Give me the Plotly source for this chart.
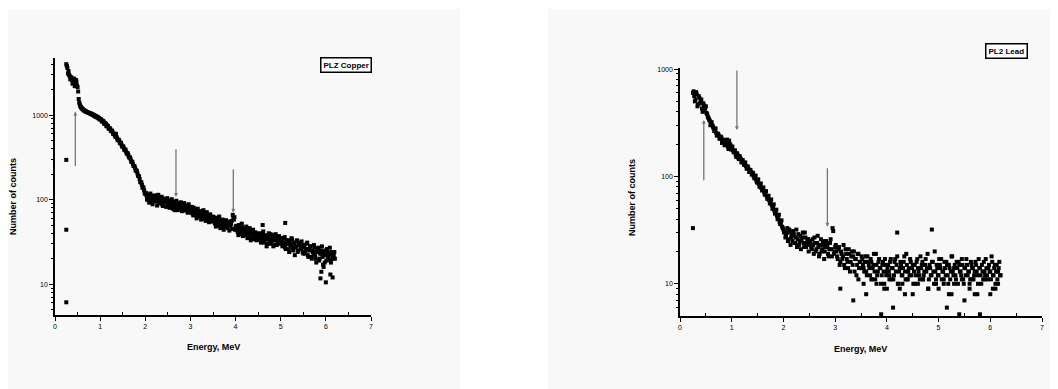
import numpy as np
import plotly.graph_objects as go

W, H = 1050, 381   # page body has an 8px margin
OFF = 8

# ---------------- data ----------------
E0, DE = 0.25, 0.025  # channel calibration (MeV)

copper_counts = [
    4000, 3600, 3300, 2900, 2750, 2600, 2450, 2700, 2300, 2500, 2150,
    1550, 1330, 1240, 1190, 1160, 1130, 1110, 1090, 1080, 1060, 1050, 1040,
    1020, 1010, 990, 975, 960, 940, 925, 900, 880, 860, 840, 810, 790, 760,
    740, 700, 680, 650, 630, 600, 575, 555, 530, 510, 490, 465, 445, 425,
    405, 390, 370, 355, 335, 315, 300, 280, 265, 250, 235, 222, 205, 190,
    175, 160, 150, 140, 128, 118, 112, 106,
    98, 115, 104, 93, 110, 101, 96, 112, 99, 90, 106, 97, 88, 103, 95, 92, 100, 87,
    85, 98, 90, 80, 94, 86, 78, 92, 84, 88, 76, 90, 82, 79, 86, 74, 83, 80, 72, 81,
    75, 68, 80, 71, 66, 74, 63, 70, 67, 61, 72, 64, 59, 68, 62, 57, 65, 60, 55, 63,
    58, 52, 61, 55, 49, 57, 51, 54, 47, 56, 50, 53, 46, 55, 49, 52, 45, 60, 62, 47,
    46, 41, 50, 44, 39, 47, 42, 38, 45, 40, 36, 43, 39, 35, 42, 37, 34, 40, 36, 38,
    37, 33, 39, 35, 31, 38, 34, 30, 36, 33, 39, 32, 35, 29, 37, 33, 31, 36, 30, 34,
    32, 29, 35, 27, 33, 30, 26, 31, 28, 34, 25, 30, 27, 32, 24, 29, 31, 26, 28, 23,
    27, 24, 30, 22, 26, 28, 21, 25, 23, 27, 20, 24, 26, 19, 23, 25, 21, 24, 18, 22,
    26, 20, 23, 19, 24, 21, 22, 20,
]
copper_counts_b = [
    3800, 3100, 3000, 2650, 2800, 2350, 2550, 2200, 2600, 2250, 1900,
    1400, 1270,
    1210, 1175, 1140, 1120, 1100, 1085, 1065, 1055, 1030, 1025, 1000, 985, 965, 950, 935, 915, 890,
    890, 840, 845, 790, 790, 740, 735, 690,
    700, 650, 655, 600, 600, 555, 550, 505,
    510, 465, 470, 425, 425, 385, 390, 350,
    350, 318, 315, 282, 280, 250, 248, 220,
    218, 192, 188, 162, 160, 138, 138, 118,
    120, 100,
    108, 92, 118, 100, 88, 112, 95, 105, 85, 114, 98, 91, 108, 84, 100, 94, 82, 104,
    96, 80, 88, 101, 78, 92, 84, 97, 75, 89, 81, 93, 73, 86, 91, 77, 84, 70, 88, 79,
    70, 82, 65, 76, 72, 60, 78, 66, 73, 58, 69, 75, 62, 56, 71, 64, 54, 67, 58, 61,
    62, 53, 48, 59, 54, 63, 46, 52, 58, 44, 51, 57, 48, 54, 43, 50, 56, 66, 58, 44,
    49, 43, 38, 47, 41, 52, 37, 44, 40, 48, 35, 41, 46, 33, 39, 44, 36, 41, 33, 39,
    34, 40, 31, 36, 42, 32, 37, 28, 35, 40, 30, 34, 38, 28, 33, 39, 29, 34, 37, 31,
    35, 28, 31, 36, 26, 30, 33, 24, 29, 35, 27, 31, 22, 28, 33, 25, 30, 27, 32, 24,
    29, 23, 26, 31, 21, 25, 28, 20, 24, 29, 22, 18, 25, 27, 20, 23, 28, 17, 22, 25,
    19, 24, 21, 27, 18, 23, 20, 24,
]
copper_extra_e = [0.25, 0.25, 0.25, 5.1, 5.88, 6.0, 6.15, 5.9, 4.6, 2.65, 1.35, 6.1, 5.95]
copper_extra_c = [295, 44, 6.1, 53, 11.7, 10.5, 12, 14, 50, 75, 600, 13, 16]

lead_counts = [
    600, 560, 520, 580, 470, 540, 500, 430, 480, 410, 450,
    380, 350, 330, 310,
    300, 280, 270, 255, 245, 240, 225, 230, 210, 215, 200, 205, 190, 215, 195, 185,
    175, 170, 160, 165, 150, 155, 145, 140,
    135, 130, 125, 120, 118, 112, 110, 105,
    100, 98, 92, 88, 85, 82, 78, 75,
    72, 68, 66, 62, 60, 57, 54, 52,
    48, 46, 43, 41, 38, 36, 34, 32,
    31, 28, 33, 26, 30, 27, 25, 29, 24, 32, 26, 23, 28, 25, 30, 22, 27, 24, 26, 23,
    25, 21, 23, 27, 20, 24, 22, 19, 26, 21, 23, 20, 25, 22, 18, 24, 21, 33, 19, 22,
    20, 17, 22, 16, 19, 18, 15, 21, 17, 14, 19, 16, 20, 18, 13, 17, 15, 19, 16, 14,
    17, 14, 16, 13, 18, 15, 12, 16, 14, 19, 11, 15, 13, 17, 14, 12, 16, 9, 15, 13,
    15, 12, 17, 14, 11, 16, 13, 18, 10, 14, 15, 12, 16, 13, 19, 11, 14, 17, 12, 15,
    13, 10, 16, 14, 12, 18, 15, 11, 13, 17, 14, 9, 15, 12, 16, 13, 20, 11, 14, 12,
    15, 17, 13, 10, 14, 16, 12, 15, 11, 18, 13, 14, 12, 16, 10, 15, 13, 17, 11, 14,
    12, 15, 13, 9, 16, 14, 11, 13, 15, 12, 17, 14, 10, 13, 16, 12, 14, 11, 15, 13,
    18, 12, 14, 10, 15, 13, 16, 12,
]
lead_counts_b = [
    620, 500, 610, 450, 560, 480, 520, 400, 460, 430, 390,
    360, 340, 300, 320,
    290, 265, 280, 240, 250, 225, 235, 205, 220, 195, 210, 220, 180, 200, 178, 190,
    168, 175, 152, 160, 145, 150, 135, 142,
    128, 135, 118, 124, 110, 115, 104, 108,
    96, 102, 88, 94, 80, 86, 74, 79,
    68, 73, 62, 66, 56, 61, 50, 55,
    45, 49, 40, 44, 36, 39, 33, 30,
    27, 30, 25, 32, 23, 28, 31, 24, 27, 22, 29, 25, 21, 27, 24, 30, 22, 26, 20, 25,
    22, 26, 19, 24, 21, 28, 18, 23, 20, 25, 17, 22, 24, 19, 21, 26, 18, 31, 20, 23,
    18, 21, 15, 20, 17, 23, 14, 19, 16, 21, 13, 18, 15, 20, 17, 12, 19, 14, 16, 18,
    15, 13, 18, 12, 16, 14, 17, 11, 15, 13, 19, 12, 16, 14, 10, 15, 13, 17, 12, 14,
    13, 16, 11, 14, 12, 17, 15, 10, 13, 16, 12, 14, 18, 11, 15, 13, 12, 16, 14, 10,
    15, 12, 17, 13, 11, 14, 16, 12, 15, 13, 19, 11, 14, 12, 16, 10, 13, 15, 12, 17,
    14, 11, 13, 16, 12, 15, 10, 14, 13, 18, 12, 15, 11, 14, 16, 13, 12, 15, 10, 14,
    17, 12, 13, 11, 15, 14, 12, 16, 13, 10, 14, 12, 15, 11, 13, 17, 12, 14, 13, 11,
    16, 12, 15, 13, 11, 14, 12,
]
lead_extra_e = [0.25, 5.4, 5.8, 3.89, 4.12, 5.16, 4.87, 4.2, 3.35, 3.6, 4.5,
                5.2, 5.5, 6.0, 3.1, 4.0, 4.8, 5.7, 6.1, 3.8, 4.3, 5.3,
                3.45, 3.7, 3.95, 4.05, 4.25, 4.4, 4.6, 4.7, 5.0, 5.1, 5.25, 5.45,
                5.6, 5.75, 5.9, 6.05, 3.55, 4.35, 4.95, 5.65, 6.15]
lead_extra_c = [33, 5.2, 5.2, 5.2, 6, 6, 32, 30, 7, 8, 8,
                8, 7, 8, 9, 9, 9, 8, 9, 10, 10, 10,
                11, 11, 10, 11, 9, 11, 10, 11, 9, 11, 8, 11,
                10, 8, 11, 9, 10, 8, 10, 11, 10]

copper_energy = [round(E0 + DE * i, 4) for i in range(len(copper_counts))]
copper_energy_b = [round(E0 + DE / 2 + DE * i, 4) for i in range(len(copper_counts_b))]
lead_energy = [round(E0 + DE * i, 4) for i in range(len(lead_counts))]
lead_energy_b = [round(E0 + DE / 2 + DE * i, 4) for i in range(len(lead_counts_b))]

x_ticks = [0, 1, 2, 3, 4, 5, 6, 7]
y_ticks = [10, 100, 1000]
y_ticktext = ["10", "100", "1000"]

# arrows: (energy, head counts, tail counts)
copper_arrows = [(0.45, 1100, 240), (2.68, 108, 410), (3.95, 70, 238)]
lead_arrows = [(0.46, 336, 89), (1.10, 270, 1000), (2.85, 34, 123)]

titles = ["PLZ Copper", "PL2 Lead"]
x_title = "Energy, MeV"
y_title = "Number of counts"

# ---------------- figure ----------------
def px_x(p):
    return (p - OFF) / W

def px_y(p):
    return 1 - (p - OFF) / H

fig = go.Figure()

mk = dict(symbol="square", size=4, color="black", line=dict(width=0))
fig.add_trace(go.Scatter(x=copper_energy + copper_energy_b + copper_extra_e,
                         y=copper_counts + copper_counts_b + copper_extra_c,
                         mode="markers", marker=mk, xaxis="x", yaxis="y", showlegend=False))
fig.add_trace(go.Scatter(x=lead_energy + lead_energy_b + lead_extra_e,
                         y=lead_counts + lead_counts_b + lead_extra_c,
                         mode="markers", marker=mk, xaxis="x2", yaxis="y2", showlegend=False))

FAM = "Liberation Sans, Arial, sans-serif"
font_tick = dict(family=FAM, size=7, color="black")
font_title = dict(family=FAM, size=9, color="black")

minor_vals = [m * 10 ** d for d in range(0, 4) for m in range(2, 10)]

def xaxis(dom, anchor):
    return dict(domain=dom, anchor=anchor, range=[0, 7], tickvals=x_ticks,
                ticks="outside", ticklen=4, tickwidth=1.2, tickcolor="black",
                showline=True, linecolor="black", linewidth=1.5, showgrid=False,
                zeroline=False, tickfont=font_tick, color="black",
                minor=dict(tickvals=[0.5, 1.5, 2.5, 3.5, 4.5, 5.5, 6.5], ticks="inside",
                           ticklen=3, tickcolor="black", showgrid=False))

def yaxis(dom, anchor, rng):
    return dict(domain=dom, anchor=anchor, type="log", range=rng,
                tickvals=y_ticks, ticktext=y_ticktext, color="black",
                ticks="outside", ticklen=4, tickwidth=1.2, tickcolor="black",
                showline=True, linecolor="black", linewidth=1.5, showgrid=False,
                zeroline=False, tickfont=font_tick,
                minor=dict(tickvals=minor_vals, ticks="outside", ticklen=2,
                           tickcolor="black", showgrid=False))

fig.update_layout(
    template="none",
    width=W, height=H, margin=dict(l=0, r=0, t=0, b=0),
    paper_bgcolor="white", plot_bgcolor="#f8f8f8",
    xaxis=xaxis([px_x(55), px_x(371)], "y"),
    yaxis=yaxis([px_y(315), px_y(58)], "x", [0.635, 3.675]),
    xaxis2=xaxis([px_x(680), px_x(1042)], "y2"),
    yaxis2=yaxis([px_y(316), px_y(68)], "x2", [0.70, 3.01]),
)

# gray panels behind
fig.add_shape(type="rect", xref="paper", yref="paper", x0=px_x(6), x1=px_x(460),
              y0=0, y1=px_y(9), fillcolor="#f8f8f8", line=dict(width=0), layer="below")
fig.add_shape(type="rect", xref="paper", yref="paper", x0=px_x(548), x1=1,
              y0=0, y1=px_y(9), fillcolor="#f8f8f8", line=dict(width=0), layer="below")

ann = []
for (e, head, tail) in copper_arrows:
    ann.append(dict(x=e, y=np.log10(head), ax=e, ay=np.log10(tail), xref="x", yref="y",
                    axref="x", ayref="y", showarrow=True, arrowhead=2, arrowsize=0.6,
                    arrowwidth=1.3, arrowcolor="#777777", text=""))
for (e, head, tail) in lead_arrows:
    ann.append(dict(x=e, y=np.log10(head), ax=e, ay=np.log10(tail), xref="x2", yref="y2",
                    axref="x2", ayref="y2", showarrow=True, arrowhead=2, arrowsize=0.6,
                    arrowwidth=1.3, arrowcolor="#777777", text=""))

box_font = dict(family=FAM, size=8, color="black")
ann.append(dict(x=px_x(346), y=px_y(65), xref="paper", yref="paper", text="<b>%s</b>" % titles[0],
                showarrow=False, font=box_font, xanchor="center", yanchor="middle",
                bordercolor="black", borderwidth=1.5, borderpad=2, bgcolor="white"))
ann.append(dict(x=px_x(1006), y=px_y(51), xref="paper", yref="paper", text="<b>%s</b>" % titles[1],
                showarrow=False, font=box_font, xanchor="center", yanchor="middle",
                bordercolor="black", borderwidth=1.5, borderpad=2, bgcolor="white"))

# axis titles
for (cx, cy) in [(213, 347), (860, 349)]:
    ann.append(dict(x=px_x(cx), y=px_y(cy), xref="paper", yref="paper",
                    xanchor="center", yanchor="middle",
                    text="<b>%s</b>" % x_title, showarrow=False, font=font_title))
for (cx, cy) in [(13, 197), (632, 198)]:
    ann.append(dict(x=px_x(cx), y=px_y(cy), xref="paper", yref="paper",
                    xanchor="center", yanchor="middle",
                    text="<b>%s</b>" % y_title, showarrow=False, font=font_title,
                    textangle=-90))
fig.update_layout(annotations=ann)

fig.write_html("out.html")
